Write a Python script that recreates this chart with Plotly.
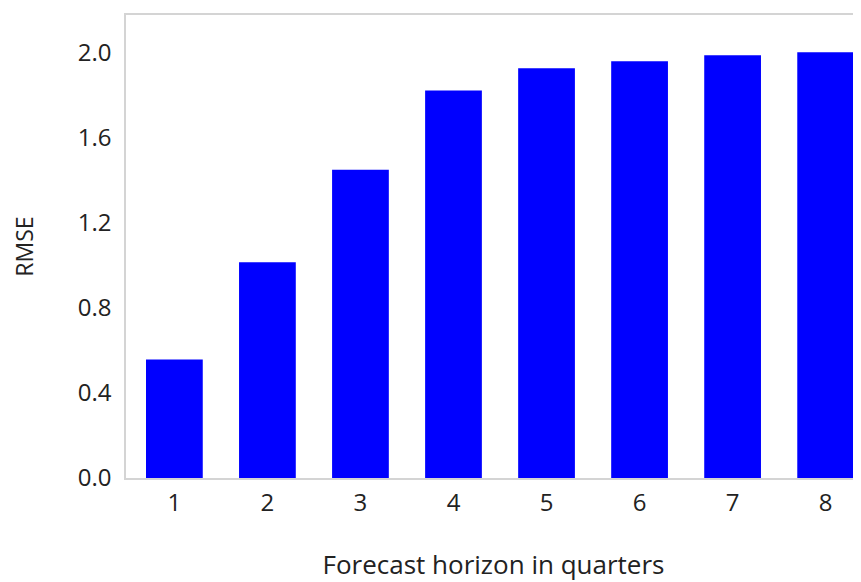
import plotly.graph_objects as go

horizons = ["1", "2", "3", "4", "5", "6", "7", "8"]
rmse = [0.557, 1.014, 1.448, 1.82, 1.925, 1.958, 1.986, 2.0]
ytick_vals = [0.0, 0.4, 0.8, 1.2, 1.6, 2.0]
ytick_text = ["0.0", "0.4", "0.8", "1.2", "1.6", "2.0"]

font_family = "Open Sans, Noto Sans, sans-serif"

fig = go.Figure(go.Bar(x=horizons, y=rmse, marker=dict(color="#0000FF", line=dict(width=0)), width=0.61))

# page body has an 8px margin, so the figure is sized to end at the window edge
fig.update_layout(
    width=853, height=574,
    margin=dict(l=118, r=0, t=7, b=104),
    plot_bgcolor="white", paper_bgcolor="white",
    font=dict(family=font_family, size=24, color="#222222"),
    showlegend=False,
)
fig.update_xaxes(
    type="category", range=[-0.52, 7.38],
    showline=True, mirror=True, linecolor="#d4d4d4", linewidth=1.5,
    showgrid=False, ticks="", ticklabelstandoff=2,
    title=dict(text="Forecast horizon in quarters", standoff=39, font=dict(size=26)),
)
fig.update_yaxes(
    range=[0, 2.175], tickvals=ytick_vals, ticktext=ytick_text,
    showline=True, mirror=False, linecolor="#d4d4d4", linewidth=1.5,
    showgrid=False, zeroline=False, ticks="", ticklabelstandoff=8,
    title=dict(text="RMSE", standoff=40, font=dict(size=23)),
)

fig.write_html("out.html")
